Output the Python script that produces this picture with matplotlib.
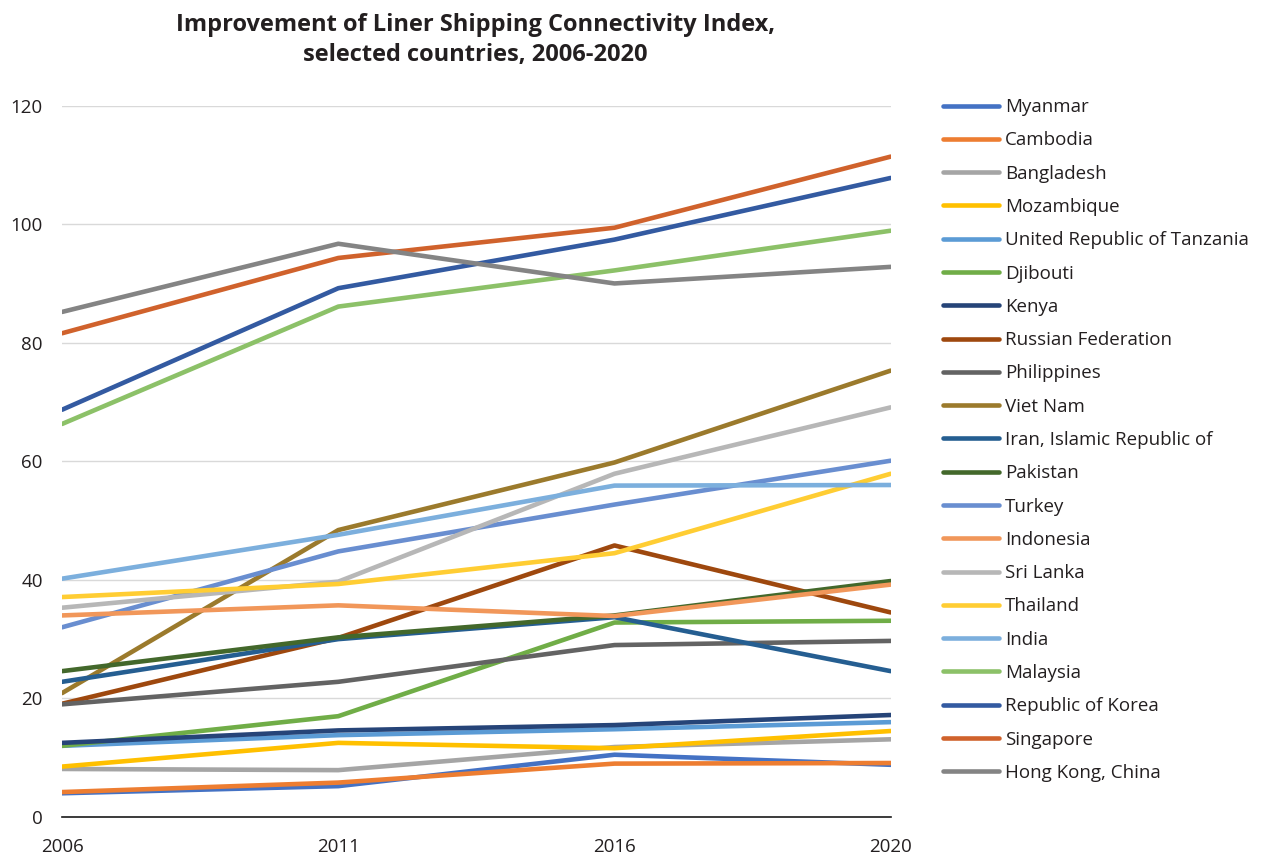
import matplotlib.pyplot as plt

years = ['2006', '2011', '2016', '2020']

countries = ['Myanmar', 'Cambodia', 'Bangladesh', 'Mozambique',
             'United Republic of Tanzania', 'Djibouti', 'Kenya',
             'Russian Federation', 'Philippines', 'Viet Nam',
             'Iran, Islamic Republic of', 'Pakistan', 'Turkey', 'Indonesia',
             'Sri Lanka', 'Thailand', 'India', 'Malaysia',
             'Republic of Korea', 'Singapore', 'Hong Kong, China']

myanmar = [4.0, 5.2, 10.5, 8.8]
cambodia = [4.2, 5.8, 9.0, 9.1]
bangladesh = [8.1, 7.9, 11.8, 13.1]
mozambique = [8.5, 12.5, 11.6, 14.5]
tanzania = [12.0, 13.8, 14.8, 16.0]
djibouti = [12.0, 17.0, 32.8, 33.1]
kenya = [12.5, 14.6, 15.5, 17.2]
russia = [19.1, 30.2, 45.8, 34.5]
philippines = [19.0, 22.8, 29.0, 29.7]
viet_nam = [20.9, 48.4, 59.8, 75.3]
iran = [22.8, 30.0, 33.7, 24.6]
pakistan = [24.6, 30.3, 34.0, 39.8]
turkey = [32.0, 44.8, 52.7, 60.1]
indonesia = [34.0, 35.7, 33.9, 39.2]
sri_lanka = [35.3, 39.7, 57.9, 69.1]
thailand = [37.1, 39.3, 44.5, 57.9]
india = [40.2, 47.6, 55.9, 56.0]
malaysia = [66.3, 86.1, 92.2, 98.9]
korea = [68.7, 89.2, 97.4, 107.8]
singapore = [81.6, 94.3, 99.4, 111.4]
hong_kong = [85.2, 96.7, 90.0, 92.8]

series = [myanmar, cambodia, bangladesh, mozambique, tanzania, djibouti,
          kenya, russia, philippines, viet_nam, iran, pakistan, turkey,
          indonesia, sri_lanka, thailand, india, malaysia, korea,
          singapore, hong_kong]

colors = ['#4472C4', '#ED7D31', '#A5A5A5', '#FFC000', '#5B9BD5', '#70AD47',
          '#264478', '#9E480E', '#636363', '#9B7A2C', '#255E91', '#43682B',
          '#698ED0', '#F1975A', '#B7B7B7', '#FFCD33', '#7CAFDD', '#8CC168',
          '#335AA1', '#D0622C', '#848484']

plt.rcParams['font.family'] = ['Open Sans', 'DejaVu Sans']
text_color = '#231F20'

fig = plt.figure(figsize=(12.67, 8.56), dpi=100)
ax = fig.add_axes([0.049, 0.0456, 0.654, 0.831])

x = list(range(len(years)))
handles = []
for name, vals, c in zip(countries, series, colors):
    ln, = ax.plot(x, vals, color=c, lw=3.3, solid_capstyle='round',
                  solid_joinstyle='round', label=name, zorder=3)
    handles.append(ln)

ax.set_xlim(0, 3)
ax.set_ylim(0, 120)
ax.set_yticks(range(0, 121, 20))
ax.set_xticks(x)
ax.set_xticklabels(years)
ax.yaxis.grid(True, color='#D9D9D9', lw=1.0, zorder=0)
for s in ['top', 'right', 'left']:
    ax.spines[s].set_visible(False)
ax.spines['bottom'].set_color('#1a1a1a')
ax.spines['bottom'].set_linewidth(1.2)
ax.spines['bottom'].set_zorder(2)
ax.tick_params(axis='both', length=0, labelsize=13.5, colors=text_color)
ax.tick_params(axis='y', pad=14)
ax.tick_params(axis='x', pad=15)

fig.text(0.375, 0.985, 'Improvement of Liner Shipping Connectivity Index,\nselected countries, 2006-2020',
         ha='center', va='top', fontsize=17, fontweight='bold',
         color=text_color, linespacing=1.35)

fig.legend(handles=handles, loc='upper left', bbox_to_anchor=(0.731, 0.905),
           frameon=False, fontsize=13.5, handlelength=3.0, handletextpad=0.3,
           labelspacing=0.815, labelcolor=text_color)

fig.savefig('out.png', dpi=100)
